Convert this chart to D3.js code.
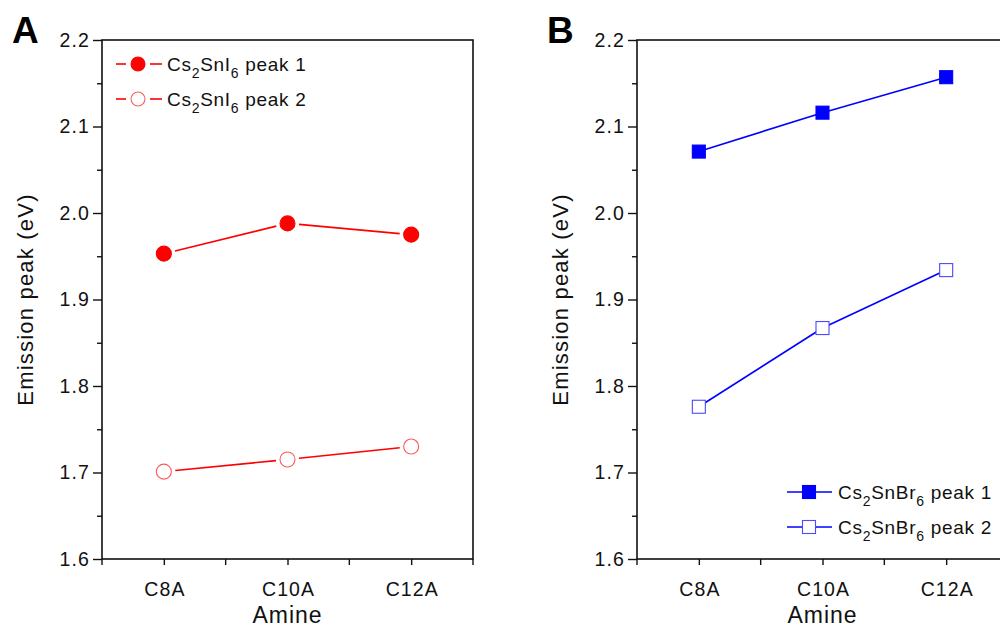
<!DOCTYPE html>
<html>
<head>
<meta charset="utf-8">
<script src="https://cdn.jsdelivr.net/npm/d3@7"></script>
<style>
  html, body { margin: 0; padding: 0; background: #fff; }
  svg { display: block; font-family: "Liberation Sans", Arial, sans-serif; }
</style>
</head>
<body>
<svg id="chart" width="1000" height="629"></svg>
<script>
// Amine chain lengths on the x axis
const amines = ["C8A", "C10A", "C12A"];
// Emission peak energies (eV)
const snI6Peak1 = [1.953, 1.988, 1.975];
const snI6Peak2 = [1.701, 1.715, 1.730];
const snBr6Peak1 = [2.071, 2.116, 2.157];
const snBr6Peak2 = [1.776, 1.867, 1.934];
// Axis ticks
const yMajorTicks = [1.6, 1.7, 1.8, 1.9, 2.0, 2.1, 2.2];
const yMinorTicks = [1.65, 1.75, 1.85, 1.95, 2.05, 2.15];

const svg = d3.select("#chart");
const ink = "#111";
const red = "#ff0000";
const blue = "#0000ff";
const tickFont = 19.5, tickSpacing = 1.1;

const plotW = 371, plotH = 519;

const panels = [
  {
    letter: "A", left: 102, top: 40, color: red, shape: "circle",
    series: [
      { name: "peak 1", values: snI6Peak1, filled: true },
      { name: "peak 2", values: snI6Peak2, filled: false }
    ],
    compound: ["Cs", "2", "SnI", "6"],
    legend: { x: 116, y: 64 },
    gap: true
  },
  {
    letter: "B", left: 637, top: 40, color: blue, shape: "square",
    series: [
      { name: "peak 1", values: snBr6Peak1, filled: true },
      { name: "peak 2", values: snBr6Peak2, filled: false }
    ],
    compound: ["Cs", "2", "SnBr", "6"],
    legend: { x: 787, y: 492 },
    gap: false
  }
];

panels.forEach(p => {
  const g = svg.append("g").attr("transform", `translate(${p.left},${p.top})`);
  const x = d3.scalePoint().domain(amines).range([0, plotW]).padding(0.5);
  const step = x.step();
  const y = d3.scaleLinear().domain([1.6, 2.2]).range([plotH, 0]);

  // frame
  g.append("rect").attr("x", 0).attr("y", 0).attr("width", plotW).attr("height", plotH)
    .attr("fill", "none").attr("stroke", ink).attr("stroke-width", 1.6);

  // y axis
  const yAxis = d3.axisLeft(y).tickValues(yMajorTicks).tickSize(9).tickPadding(3)
    .tickFormat(d3.format(".1f"));
  const ya = g.append("g").call(yAxis);
  ya.select(".domain").remove();
  ya.selectAll("line").attr("stroke", ink).attr("stroke-width", 1.4);
  ya.selectAll("text").attr("font-size", tickFont).attr("letter-spacing", tickSpacing)
    .attr("fill", ink).attr("font-family", "Liberation Sans, Arial, sans-serif");
  const yMin = d3.axisLeft(y).tickValues(yMinorTicks).tickSize(5).tickFormat("");
  const ym = g.append("g").call(yMin);
  ym.select(".domain").remove();
  ym.selectAll("line").attr("stroke", ink).attr("stroke-width", 1.4);

  // x axis
  const xAxis = d3.axisBottom(x).tickSize(6).tickPadding(17);
  const xa = g.append("g").attr("transform", `translate(0,${plotH})`).call(xAxis);
  xa.select(".domain").remove();
  xa.selectAll("line").attr("stroke", ink).attr("stroke-width", 1.4);
  xa.selectAll("text").attr("font-size", tickFont).attr("letter-spacing", tickSpacing)
    .attr("dx", tickSpacing / 2)
    .attr("fill", ink).attr("font-family", "Liberation Sans, Arial, sans-serif");
  // minor x ticks between categories and at the ends
  const xMinorPos = [0, step, 2 * step, 3 * step];
  g.append("g").selectAll("line").data(xMinorPos).join("line")
    .attr("x1", d => d).attr("x2", d => d)
    .attr("y1", plotH).attr("y2", plotH + 6)
    .attr("stroke", ink).attr("stroke-width", 1.4);

  // axis titles
  g.append("text").attr("x", plotW / 2).attr("y", plotH + 64)
    .attr("text-anchor", "middle").attr("font-size", 23).attr("letter-spacing", 1)
    .attr("fill", ink).text("Amine");
  g.append("text")
    .attr("transform", `translate(${-69},${plotH / 2}) rotate(-90)`)
    .attr("text-anchor", "middle").attr("font-size", 22).attr("letter-spacing", 1.2)
    .attr("fill", ink).text("Emission peak (eV)");

  // panel letter
  svg.append("text").attr("x", p.left - 90).attr("y", p.top + 3)
    .attr("font-size", 37).attr("font-weight", "bold").attr("fill", "#000")
    .text(p.letter);

  const markerR = 7.5, sq = 13;

  p.series.forEach(s => {
    const pts = s.values.map((v, i) => [x(amines[i]), y(v)]);
    // connecting segments, optionally broken around markers
    const segs = d3.pairs(pts).map(([a, b]) => {
      const dx = b[0] - a[0], dy = b[1] - a[1];
      const len = Math.hypot(dx, dy);
      const cut = p.gap ? markerR + 4 : 0;
      const ux = dx / len, uy = dy / len;
      return [a[0] + ux * cut, a[1] + uy * cut, b[0] - ux * cut, b[1] - uy * cut];
    });
    g.append("g").selectAll("line").data(segs).join("line")
      .attr("x1", d => d[0]).attr("y1", d => d[1])
      .attr("x2", d => d[2]).attr("y2", d => d[3])
      .attr("stroke", p.color).attr("stroke-width", 1.6);

    const mg = g.append("g");
    if (p.shape === "circle") {
      mg.selectAll("circle").data(pts).join("circle")
        .attr("cx", d => d[0]).attr("cy", d => d[1]).attr("r", markerR)
        .attr("fill", s.filled ? p.color : "#fff")
        .attr("stroke", s.filled ? p.color : "#ff5a5a").attr("stroke-width", 1.1);
    } else {
      mg.selectAll("rect").data(pts).join("rect")
        .attr("x", d => d[0] - sq / 2).attr("y", d => d[1] - sq / 2)
        .attr("width", sq).attr("height", sq)
        .attr("fill", s.filled ? p.color : "#fff")
        .attr("stroke", s.filled ? p.color : "#4a4aff").attr("stroke-width", 1.1);
    }
  });

  // legend
  const lg = svg.append("g").attr("transform", `translate(${p.legend.x},${p.legend.y})`);
  p.series.forEach((s, i) => {
    const row = lg.append("g").attr("transform", `translate(0,${i * 35})`);
    const mx = 22;
    if (p.gap) {
      row.append("line").attr("x1", 0).attr("x2", 10).attr("y1", 0).attr("y2", 0)
        .attr("stroke", p.color).attr("stroke-width", 1.6);
      row.append("line").attr("x1", 34).attr("x2", 46).attr("y1", 0).attr("y2", 0)
        .attr("stroke", p.color).attr("stroke-width", 1.6);
    } else {
      row.append("line").attr("x1", 0).attr("x2", 45).attr("y1", 0).attr("y2", 0)
        .attr("stroke", p.color).attr("stroke-width", 1.6);
    }
    if (p.shape === "circle") {
      row.append("circle").attr("cx", mx).attr("cy", 0).attr("r", 7)
        .attr("fill", s.filled ? p.color : "#fff")
        .attr("stroke", s.filled ? p.color : "#ff5a5a").attr("stroke-width", 1.1);
    } else {
      row.append("rect").attr("x", mx - 6.5).attr("y", -6.5).attr("width", 13).attr("height", 13)
        .attr("fill", s.filled ? p.color : "#fff")
        .attr("stroke", s.filled ? p.color : "#4a4aff").attr("stroke-width", 1.1);
    }
    const t = row.append("text").attr("x", 51).attr("y", 7).attr("font-size", 19)
      .attr("letter-spacing", 0.7).attr("fill", ink);
    t.append("tspan").text(p.compound[0]);
    t.append("tspan").attr("dy", 7).attr("font-size", 14).text(p.compound[1]);
    t.append("tspan").attr("dy", -7).text(p.compound[2]);
    t.append("tspan").attr("dy", 7).attr("font-size", 14).text(p.compound[3]);
    t.append("tspan").attr("dy", -7).text(" " + s.name);
  });
});
</script>
</body>
</html>
